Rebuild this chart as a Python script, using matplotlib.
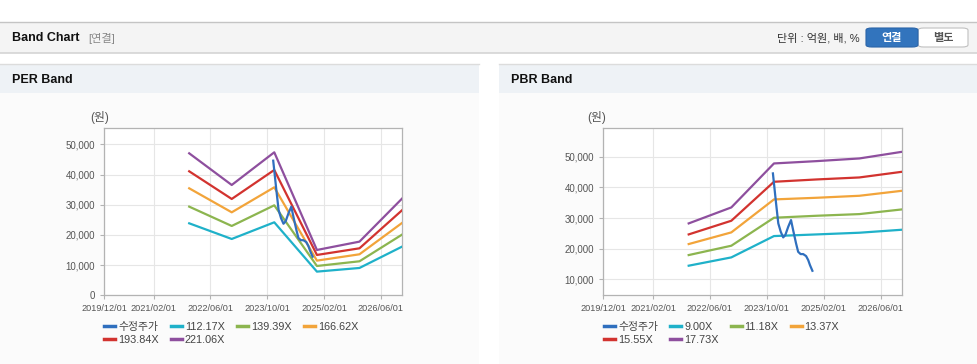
import matplotlib
matplotlib.use("Agg")
import matplotlib.pyplot as plt
import matplotlib.dates as mdates
from matplotlib.patches import Rectangle, FancyBboxPatch
from matplotlib.lines import Line2D
import pandas as pd

plt.rcParams['font.family'] = ['Liberation Sans', 'Noto Sans CJK KR', 'DejaVu Sans']

# ---------------- data ----------------
band_dates = ["2021-12-01", "2022-12-01", "2023-12-01", "2024-12-01", "2025-12-01", "2026-12-01"]

per_labels = ["112.17X", "139.39X", "166.62X", "193.84X", "221.06X"]
per_112 = [23840, 18650, 24170, 7840, 9050, 16110]
per_139 = [29360, 22960, 29800, 9710, 11260, 20090]
per_166 = [35430, 27480, 35760, 11480, 13580, 23950]
per_193 = [41060, 31900, 41500, 13360, 15560, 28150]
per_221 = [47020, 36530, 47350, 15010, 17770, 32010]

pbr_labels = ["9.00X", "11.18X", "13.37X", "15.55X", "17.73X"]
pbr_900 = [14460, 17170, 24130, 24670, 25220, 26200]
pbr_1118 = [17930, 20980, 30110, 30760, 31300, 32830]
pbr_1337 = [21520, 25330, 36090, 36630, 37280, 38910]
pbr_1555 = [24670, 29130, 41850, 42610, 43260, 45110]
pbr_1773 = [28260, 33480, 47830, 48590, 49460, 51630]

price_label = "수정주가"
price_dates = ["2023-11-22", "2023-12-01", "2023-12-19", "2024-01-07", "2024-01-28", "2024-02-18",
               "2024-03-07", "2024-04-01", "2024-04-25", "2024-05-13", "2024-06-07", "2024-06-25",
               "2024-07-16", "2024-08-07", "2024-09-01", "2024-09-19", "2024-10-04", "2024-10-25"]
price_vals = [44580, 41320, 34800, 28270, 25530, 23700, 24450, 27160, 29350, 26080, 21750, 19000,
              18250, 18250, 17600, 16300, 14670, 12800]

xtick_dates = ["2019-12-01", "2021-02-01", "2022-06-01", "2023-10-01", "2025-02-01", "2026-06-01"]
per_yticks = [0, 10000, 20000, 30000, 40000, 50000]
pbr_yticks = [10000, 20000, 30000, 40000, 50000]

colors = ["#1fb1c9", "#8cb54f", "#f2a43a", "#d2332f", "#8e4f9e"]
price_color = "#2f6fbe"

# ---------------- figure ----------------
W, H = 978, 364
fig = plt.figure(figsize=(W / 100, H / 100), dpi=100)
fig.patch.set_facecolor("white")


def rect(x, y, w, h, color):
    fig.patches.append(Rectangle((x / W, 1 - (y + h) / H), w / W, h / H,
                                 transform=fig.transFigure, facecolor=color,
                                 edgecolor="none", lw=0, zorder=-10))


def hline(y, x0, x1, color, lw=1.0):
    fig.add_artist(Line2D([x0 / W, x1 / W], [1 - y / H, 1 - y / H], transform=fig.transFigure,
                          color=color, lw=lw, zorder=-5))


def text(x, y, s, **kw):
    fig.text(x / W, 1 - y / H, s, **kw)


# top header
rect(0, 22, W, 31, "#f4f4f4")
hline(22, 0, W, "#c4c4c4", 1.0)
hline(53, 0, W, "#d4d4d4", 1.2)
text(12, 38, "Band Chart", fontsize=9, fontweight="bold", color="#111111", va="center")
text(88, 38, "[연결]", fontsize=8, color="#888888", va="center")
text(860, 38, "단위 : 억원, 배, %", fontsize=8, color="#333333", va="center", ha="right")
fig.patches.append(FancyBboxPatch((918 / W, 1 - 47 / H), 50 / W, 19 / H,
                                  boxstyle="round,pad=0,rounding_size=0.006",
                                  transform=fig.transFigure, facecolor="white",
                                  edgecolor="#c0c0c0", lw=0.8))
fig.patches.append(FancyBboxPatch((866 / W, 1 - 47 / H), 52 / W, 19 / H,
                                  boxstyle="round,pad=0,rounding_size=0.006",
                                  transform=fig.transFigure, facecolor="#3274bd",
                                  edgecolor="#2a64a8", lw=0.8))
text(892, 38, "연결", fontsize=8, fontweight="bold", color="white", va="center", ha="center")
text(943, 38, "별도", fontsize=8, fontweight="bold", color="#555555", va="center", ha="center")

# panels
for px0, px1, title in [(0, 479, "PER Band"), (499, W, "PBR Band")]:
    rect(px0, 64, px1 - px0, 29, "#eef2f6")
    rect(px0, 93, px1 - px0, H - 93, "#fbfbfb")
    hline(64, px0, px1, "#dcdcdc", 1.0)
    text(px0 + 12, 80, title, fontsize=9, fontweight="bold", color="#111111", va="center")

band_x = pd.to_datetime(band_dates)
price_x = pd.to_datetime(price_dates)
xt = pd.to_datetime(xtick_dates)


def setup(ax, yticks, ylim):
    ax.set_zorder(2)
    ax.set_facecolor("white")
    ax.set_xlim(pd.Timestamp("2019-12-01"), pd.Timestamp("2026-12-01"))
    ax.set_ylim(*ylim)
    ax.set_xticks(xt)
    ax.xaxis.set_major_formatter(mdates.DateFormatter("%Y/%m/%d"))
    ax.set_yticks(yticks)
    ax.set_yticklabels([f"{v:,}" for v in yticks])
    ax.grid(True, color="#e6e6e6", lw=0.8)
    ax.set_axisbelow(True)
    for s in ax.spines.values():
        s.set_color("#b3b3b3")
        s.set_linewidth(0.9)
    ax.tick_params(axis="both", colors="#b3b3b3", length=3, width=0.8)
    for lab in ax.get_yticklabels():
        lab.set_color("#555555")
        lab.set_fontsize(7)
    for lab in ax.get_xticklabels():
        lab.set_color("#555555")
        lab.set_fontsize(6.6)


def legend(handles, labels, x):
    order = [0, 4, 1, 5, 2, 3]
    lg = fig.legend([handles[i] for i in order], [labels[i] for i in order],
                    loc="upper left", bbox_to_anchor=(x / W, 1 - 322 / H),
                    ncol=4, frameon=False, fontsize=7.8, handlelength=1.05, handletextpad=0.25,
                    columnspacing=1.1, labelspacing=0.25, borderaxespad=0, borderpad=0,
                    labelcolor="#444444")
    lg.set_zorder(3)
    for ln in lg.get_lines():
        ln.set_linewidth(2.5)


# PER
ax1 = fig.add_axes([104 / W, 1 - 295.3 / H, 298 / W, 167 / H])
setup(ax1, per_yticks, (0, 55300))
handles = [ax1.plot(price_x, price_vals, color=price_color, lw=1.6, zorder=5)[0]]
for vals, c in zip([per_112, per_139, per_166, per_193, per_221], colors):
    handles.append(ax1.plot(band_x, vals, color=c, lw=1.6, zorder=3)[0])
text(90, 118, "(원)", fontsize=8.5, color="#555555", va="center")
legend(handles, [price_label] + per_labels, 104)

# PBR
ax2 = fig.add_axes([603.3 / W, 1 - 295.3 / H, 298.7 / W, 167 / H])
setup(ax2, pbr_yticks, (4800, 59300))
handles = [ax2.plot(price_x, price_vals, color=price_color, lw=1.6, zorder=5)[0]]
for vals, c in zip([pbr_900, pbr_1118, pbr_1337, pbr_1555, pbr_1773], colors):
    handles.append(ax2.plot(band_x, vals, color=c, lw=1.6, zorder=3)[0])
text(587, 118, "(원)", fontsize=8.5, color="#555555", va="center")
legend(handles, [price_label] + pbr_labels, 604)

fig.savefig("out.png", dpi=100)
